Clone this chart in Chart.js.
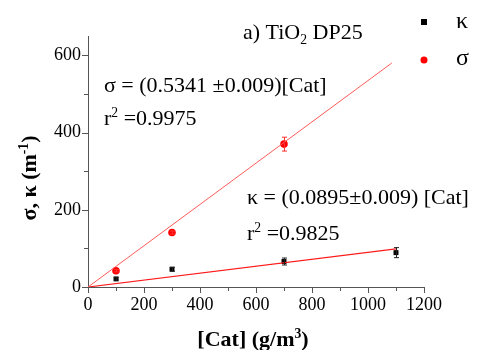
<!DOCTYPE html>
<html>
<head>
<meta charset="utf-8">
<script src="https://cdn.jsdelivr.net/npm/chart.js@4"></script>
<style>
  html, body { margin: 0; padding: 0; background: #fff; }
  #wrap { width: 477px; height: 350px; }
</style>
</head>
<body>
<div id="wrap"><canvas id="chart" width="477" height="350"></canvas></div>
<script>
// data
const kappaX = [100, 300, 700, 1100];
const kappaVals = [21, 46, 66, 89];
const kappaErr = [3, 5, 9, 13];

const sigmaX = [100, 300, 700];
const sigmaVals = [42, 141, 370];
const sigmaErr = [3, 4, 18];

// fitted lines (end points)
const sigmaFitX = [0, 1085];
const sigmaFitY = [0, 580];
const kappaFitX = [0, 1100];
const kappaFitY = [0, 98.5];

const xMajor = [0, 200, 400, 600, 800, 1000, 1200];
const xMinor = [100, 300, 500, 700, 900, 1100];
const yMajor = [0, 200, 400, 600];
const yMinor = [100, 300, 500];

const SERIF = "'Liberation Serif', 'Times New Roman', serif";
const AXIS_COLOR = "#555";

Chart.defaults.font.family = SERIF;

function pts(xs, ys) {
  return xs.map((x, i) => ({ x: x, y: ys[i] }));
}

// text with sub/superscripts: parts = [[text, 'sup'|'sub'|undefined], ...]
function richWidth(ctx, parts, size, weight) {
  let w = 0;
  parts.forEach(p => {
    const s = p[1] ? size * 0.62 : size;
    ctx.font = `${weight} ${s}px ${SERIF}`;
    w += ctx.measureText(p[0]).width;
  });
  return w;
}

function drawRich(ctx, parts, x, y, size, weight) {
  weight = weight || "normal";
  let cx = x;
  parts.forEach(p => {
    let s = size, dy = 0;
    if (p[1] === "sup") { s = size * 0.62; dy = -size * 0.38; }
    if (p[1] === "sub") { s = size * 0.62; dy = size * 0.22; }
    ctx.font = `${weight} ${s}px ${SERIF}`;
    ctx.fillText(p[0], cx, y + dy);
    cx += ctx.measureText(p[0]).width;
  });
}

const errorBars = {
  id: "errorBars",
  afterDatasetsDraw(chart) {
    const ctx = chart.ctx;
    const xs = chart.scales.x, ys = chart.scales.y;
    const sets = [
      { xv: kappaX, yv: kappaVals, ev: kappaErr, color: "#222" },
      { xv: sigmaX, yv: sigmaVals, ev: sigmaErr, color: "#ff3030" }
    ];
    ctx.save();
    ctx.lineWidth = 1;
    sets.forEach(s => {
      ctx.strokeStyle = s.color;
      s.xv.forEach((xv, i) => {
        const px = Math.round(xs.getPixelForValue(xv)) + 0.5;
        const top = ys.getPixelForValue(s.yv[i] + s.ev[i]);
        const bot = ys.getPixelForValue(s.yv[i] - s.ev[i]);
        ctx.beginPath();
        ctx.moveTo(px, top); ctx.lineTo(px, bot);
        ctx.moveTo(px - 2.5, top); ctx.lineTo(px + 2.5, top);
        ctx.moveTo(px - 2.5, bot); ctx.lineTo(px + 2.5, bot);
        ctx.stroke();
      });
    });
    ctx.restore();
  }
};

const decorations = {
  id: "decorations",
  afterDraw(chart) {
    const ctx = chart.ctx;
    const xs = chart.scales.x, ys = chart.scales.y;
    const area = chart.chartArea;
    ctx.save();

    // tick marks, outward
    ctx.strokeStyle = AXIS_COLOR;
    ctx.lineWidth = 1;
    ctx.beginPath();
    xMajor.forEach(v => {
      const px = Math.round(xs.getPixelForValue(v)) + 0.5;
      ctx.moveTo(px, area.bottom); ctx.lineTo(px, area.bottom + 6);
    });
    xMinor.forEach(v => {
      const px = Math.round(xs.getPixelForValue(v)) + 0.5;
      ctx.moveTo(px, area.bottom); ctx.lineTo(px, area.bottom + 4);
    });
    yMajor.forEach(v => {
      const py = Math.round(ys.getPixelForValue(v)) + 0.5;
      ctx.moveTo(area.left, py); ctx.lineTo(area.left - 6, py);
    });
    yMinor.forEach(v => {
      const py = Math.round(ys.getPixelForValue(v)) + 0.5;
      ctx.moveTo(area.left, py); ctx.lineTo(area.left - 4, py);
    });
    ctx.stroke();

    ctx.fillStyle = "#000";
    ctx.textAlign = "left";
    ctx.textBaseline = "alphabetic";

    // annotations
    drawRich(ctx, [["a) TiO"], ["2", "sub"], [" DP25"]], 243, 39, 22);
    drawRich(ctx, [["\u03c3 = (0.5341 \u00b10.009)[Cat]"]], 104, 92, 22);
    drawRich(ctx, [["r"], ["2", "sup"], [" =0.9975"]], 104, 125, 22);
    drawRich(ctx, [["\u03ba = (0.0895\u00b10.009) [Cat]"]], 247, 204, 22);
    drawRich(ctx, [["r"], ["2", "sup"], [" =0.9825"]], 247, 240, 22);

    // legend
    ctx.fillStyle = "#000";
    ctx.fillRect(421, 19, 6, 6);
    ctx.fillStyle = "#ff0000";
    ctx.beginPath();
    ctx.arc(424, 60, 3.5, 0, Math.PI * 2);
    ctx.fill();
    ctx.fillStyle = "#000";
    ctx.font = `24px ${SERIF}`;
    ctx.fillText("\u03ba", 456, 28);
    ctx.fillText("\u03c3", 456, 65);

    // axis titles
    const xt = [["[Cat] (g/m"], ["3", "sup"], [")"]];
    const xw = richWidth(ctx, xt, 22, "bold");
    drawRich(ctx, xt, 253 - xw / 2, 346, 22, "bold");

    const yt = [["\u03c3, \u03ba (m"], ["-1", "sup"], [")"]];
    ctx.translate(36, 178);
    ctx.rotate(-Math.PI / 2);
    const yw = richWidth(ctx, yt, 22, "bold");
    drawRich(ctx, yt, -yw / 2, 0, 22, "bold");

    ctx.restore();
  }
};

new Chart(document.getElementById("chart"), {
  type: "scatter",
  data: {
    datasets: [
      {
        label: "sigma fit",
        data: pts(sigmaFitX, sigmaFitY),
        showLine: true,
        borderColor: "#ff5a5a",
        borderWidth: 1,
        pointRadius: 0
      },
      {
        label: "kappa fit",
        data: pts(kappaFitX, kappaFitY),
        showLine: true,
        borderColor: "#ff1a1a",
        borderWidth: 1.2,
        pointRadius: 0
      },
      {
        label: "\u03ba",
        data: pts(kappaX, kappaVals),
        pointStyle: "rect",
        pointRadius: 3.5,
        backgroundColor: "#000",
        borderColor: "#000",
        borderWidth: 0
      },
      {
        label: "\u03c3",
        data: pts(sigmaX, sigmaVals),
        pointStyle: "circle",
        pointRadius: 3.8,
        backgroundColor: "#ff0000",
        borderColor: "#ff0000",
        borderWidth: 0
      }
    ]
  },
  options: {
    responsive: false,
    animation: false,
    layout: { padding: { top: 36, right: 53, left: 0, bottom: 0 } },
    plugins: {
      legend: { display: false },
      tooltip: { enabled: false }
    },
    scales: {
      x: {
        type: "linear",
        min: 0,
        max: 1200,
        afterFit: s => { s.height = 63; },
        ticks: {
          stepSize: 200,
          padding: 7,
          color: "#000",
          font: { family: SERIF, size: 18 },
          callback: v => String(v)
        },
        grid: { display: true, drawOnChartArea: false, drawTicks: false },
        border: { color: AXIS_COLOR, width: 1 }
      },
      y: {
        type: "linear",
        min: 0,
        max: 650,
        afterFit: s => { s.width = 88; },
        ticks: {
          stepSize: 200,
          includeBounds: false,
          padding: 7,
          color: "#000",
          font: { family: SERIF, size: 18 },
          callback: v => String(v)
        },
        grid: { display: true, drawOnChartArea: false, drawTicks: false },
        border: { color: AXIS_COLOR, width: 1 }
      }
    }
  },
  plugins: [errorBars, decorations]
});
</script>
</body>
</html>
